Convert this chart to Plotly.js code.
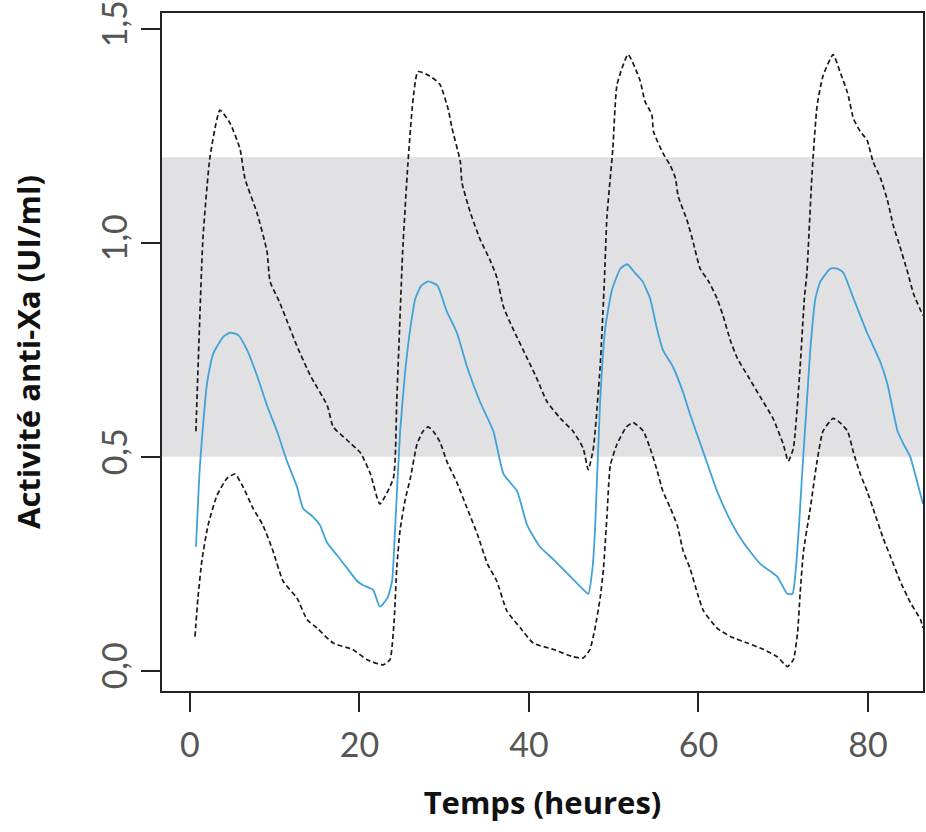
<!DOCTYPE html>
<html>
<head>
<meta charset="utf-8">
<script src="https://cdn.plot.ly/plotly-3.0.1.min.js"></script>
<style>html,body{margin:0;padding:0;background:#fff;}#chart{width:926px;height:832px;}</style>
</head>
<body>
<div id="chart"></div>
<script>
// Upper bound (dashed)
const tUpper = [0.7,0.94,1.53,2.36,3.54,4.72,5.9,6.49,7.91,9.09,9.45,10.6,11.8,12.6,14.2,16.2,16.9,18.5,20.1,21.3,22.4,24.0,24.4,25.1,25.7,26.3,26.9,28.3,29.5,30.5,30.9,31.9,32.1,33.1,34.2,35.4,36.2,37.0,38.1,39.8,41.0,42.1,43.7,45.2,46.4,47.0,47.6,48.4,48.9,49.2,49.9,50.4,51.7,53.1,53.7,54.5,54.7,55.8,56.7,57.3,57.6,58.7,59.4,60.2,61.2,62.2,62.9,63.8,64.6,65.8,67.3,68.8,70.0,70.6,71.2,72.0,72.5,72.8,73.4,74.0,74.7,75.9,76.7,77.6,78.3,79.1,79.9,80.6,81.5,82.3,83.0,83.8,84.7,85.4,86.5];
const upper = [0.56,0.70,1.01,1.20,1.31,1.28,1.22,1.15,1.07,0.98,0.91,0.86,0.80,0.76,0.69,0.62,0.57,0.54,0.51,0.46,0.39,0.45,0.63,0.98,1.18,1.33,1.40,1.39,1.37,1.31,1.27,1.19,1.14,1.07,1.01,0.96,0.92,0.85,0.80,0.73,0.68,0.63,0.59,0.56,0.52,0.47,0.52,0.71,0.91,1.06,1.22,1.37,1.44,1.38,1.33,1.30,1.26,1.21,1.18,1.15,1.11,1.05,1.00,0.94,0.91,0.87,0.83,0.77,0.73,0.69,0.64,0.59,0.53,0.49,0.52,0.71,0.87,0.93,1.16,1.32,1.39,1.44,1.40,1.35,1.29,1.26,1.24,1.19,1.15,1.10,1.04,0.99,0.93,0.88,0.83];

// Lower bound (dashed)
const tLower = [0.59,0.94,1.42,2.13,3.19,4.37,5.31,6.26,7.44,8.62,9.80,10.98,12.63,13.81,15.0,16.9,19.2,20.9,22.8,23.6,24.1,24.4,24.8,25.4,26.0,26.8,27.5,28.1,28.7,29.5,30.3,31.5,32.7,33.9,35.1,36.2,37.4,39.0,40.5,42.9,45.2,46.4,47.2,47.8,48.4,48.8,49.2,49.6,50.4,51.5,52.3,53.5,54.3,55.1,55.8,56.7,57.5,58.2,59.0,59.9,60.6,62.2,63.8,65.8,67.7,69.3,70.5,71.2,71.7,72.0,72.4,73.2,74.0,74.7,75.9,76.7,77.6,78.3,79.1,79.9,80.6,81.8,82.6,83.8,85.0,86.2,86.5];
const lower = [0.08,0.17,0.26,0.34,0.41,0.45,0.46,0.43,0.38,0.34,0.28,0.21,0.17,0.12,0.10,0.065,0.05,0.026,0.014,0.026,0.12,0.24,0.33,0.40,0.45,0.53,0.56,0.57,0.56,0.535,0.49,0.44,0.38,0.32,0.25,0.21,0.14,0.10,0.065,0.05,0.033,0.03,0.05,0.10,0.17,0.24,0.36,0.48,0.53,0.57,0.58,0.56,0.52,0.47,0.42,0.38,0.34,0.28,0.24,0.18,0.14,0.10,0.08,0.065,0.05,0.033,0.01,0.026,0.09,0.18,0.28,0.38,0.49,0.56,0.59,0.58,0.56,0.51,0.46,0.42,0.38,0.31,0.27,0.21,0.16,0.12,0.10];

// Median (blue)
const tMedian = [0.71,1.18,2.0,2.72,3.9,4.72,5.67,6.73,7.91,9.09,10.27,11.45,12.63,13.34,14.52,15.35,16.17,17.36,18.54,19.72,20.43,21.6,22.4,23.3,23.85,24.2,24.8,25.4,26.0,26.6,27.3,28.1,29.2,30.3,31.5,32.7,34.2,35.8,37.0,38.6,39.8,41.3,42.9,44.9,46.4,47.0,47.5,47.8,48.4,49.0,49.8,50.8,51.6,52.5,53.4,54.3,55.1,55.8,57.0,58.2,59.0,60.6,62.2,63.8,65.3,67.3,69.3,70.5,71.1,71.5,71.9,72.3,72.8,73.2,73.8,74.4,75.6,76.4,77.1,78.3,79.1,79.9,80.6,81.5,82.3,83.5,84.2,85.0,85.7,86.5];
const median = [0.29,0.48,0.67,0.74,0.78,0.79,0.785,0.75,0.69,0.62,0.56,0.49,0.43,0.38,0.36,0.34,0.30,0.27,0.24,0.21,0.20,0.19,0.15,0.17,0.21,0.33,0.56,0.70,0.80,0.87,0.90,0.91,0.90,0.84,0.79,0.71,0.63,0.56,0.46,0.42,0.34,0.29,0.26,0.22,0.19,0.18,0.24,0.33,0.63,0.80,0.89,0.94,0.95,0.93,0.91,0.87,0.80,0.75,0.71,0.65,0.60,0.51,0.42,0.35,0.30,0.25,0.22,0.18,0.18,0.24,0.35,0.48,0.63,0.75,0.87,0.91,0.94,0.94,0.93,0.87,0.83,0.79,0.76,0.72,0.67,0.56,0.53,0.50,0.45,0.39];

// Target band
const bandLow = 0.5;
const bandHigh = 1.2;

// Ticks
const xTicks = [0,20,40,60,80];
const yTicks = [0,0.5,1.0,1.5];
const yTickText = ["0,0","0,5","1,0","1,5"];

const dashLine = {color:'#1a1a1a', width:1.7, dash:'5px,3px', shape:'spline', smoothing:0.5};

const traces = [
  {x:tUpper, y:upper, type:'scatter', mode:'lines', line:dashLine, hoverinfo:'skip'},
  {x:tLower, y:lower, type:'scatter', mode:'lines', line:dashLine, hoverinfo:'skip'},
  {x:tMedian, y:median, type:'scatter', mode:'lines', line:{color:'#3fa2d8', width:1.8, shape:'spline', smoothing:0.5}, hoverinfo:'skip'}
];

const tickFont = {family:'Lato, "Open Sans", sans-serif', size:34, color:'#555'};
const titleFont = {family:'"Open Sans", Lato, sans-serif', size:31, color:'#111', weight:'bold'};

const layout = {
  width:926, height:832,
  margin:{l:162, r:3, t:13, b:141},
  paper_bgcolor:'#fff', plot_bgcolor:'#fff',
  showlegend:false,
  xaxis:{
    range:[-3.3, 86.5], tickmode:'array', tickvals:xTicks, ticktext:xTicks.map(String),
    ticks:'outside', ticklen:19, tickwidth:2, tickcolor:'#222',
    showline:true, linecolor:'#222', linewidth:2, mirror:true,
    showgrid:false, zeroline:false, tickfont:tickFont, ticklabelstandoff:4,
    title:{text:'Temps (heures)', font:titleFont, standoff:30}
  },
  yaxis:{
    range:[-0.047, 1.537], tickmode:'array', tickvals:yTicks, ticktext:yTickText,
    tickangle:-90,
    ticks:'outside', ticklen:19, tickwidth:2, tickcolor:'#222',
    showline:true, linecolor:'#222', linewidth:2, mirror:true,
    showgrid:false, zeroline:false, tickfont:tickFont,
    title:{text:'Activité anti-Xa (UI/ml)', font:titleFont, standoff:44}
  },
  shapes:[
    {type:'rect', xref:'paper', x0:0, x1:1, yref:'y', y0:bandLow, y1:bandHigh,
     fillcolor:'#e1e1e3', line:{width:0}, layer:'below'}
  ]
};

Plotly.newPlot('chart', traces, layout, {staticPlot:true, displayModeBar:false});
</script>
</body>
</html>
